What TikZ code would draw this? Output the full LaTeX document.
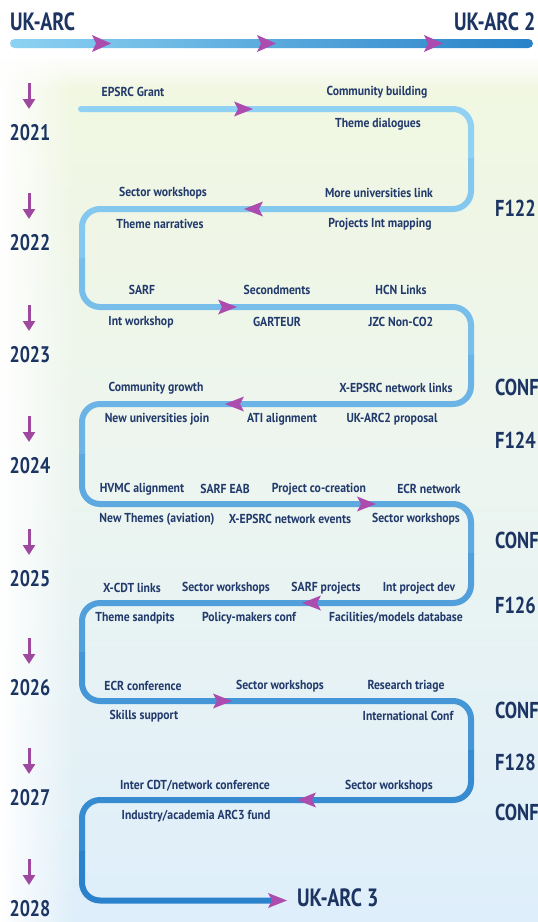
\documentclass[tikz,border=0pt]{standalone}
\usepackage{fontspec}
\setmainfont[FakeStretch=0.8]{PT Sans}
\newfontfamily\labfont[FakeStretch=0.9]{PT Sans}
\usetikzlibrary{fadings,arrows.meta}

\definecolor{navy}{RGB}{27,52,98}
\definecolor{labc}{RGB}{34,58,108}
\definecolor{purp}{RGB}{172,76,174}
\definecolor{darrc}{RGB}{158,72,160}
\definecolor{lineA}{RGB}{145,210,244}
\definecolor{lineB}{RGB}{42,130,204}
\definecolor{barA}{RGB}{140,210,242}
\definecolor{barB}{RGB}{40,130,200}
\definecolor{bgtop}{RGB}{241,247,224}
\definecolor{bgmid}{RGB}{236,245,240}
\definecolor{bgbot}{RGB}{222,238,250}

\begin{document}
\begin{tikzpicture}[x=1pt,y=-1pt,
  lab/.style={font=\labfont\bfseries\fontsize{13}{14}\selectfont, text=labc, inner sep=0pt},
  yr/.style={font=\bfseries\fontsize{22.5}{24}\selectfont, text=navy, inner sep=0pt},
  side/.style={font=\bfseries\fontsize{23}{24}\selectfont, text=navy, inner sep=0pt, anchor=west},
  big/.style={font=\bfseries\fontsize{25}{27}\selectfont, text=navy, inner sep=0pt},
  snake/.style={line width=6pt, rounded corners=18pt},
  darr/.style={draw=darrc, line width=3pt, -{Triangle[length=10pt,width=12pt]}},
  rtri/.pic={\fill[purp] (0,0) -- (-19,-7.5) -- (-15,0) -- (-19,7.5) -- cycle;},
  ltri/.pic={\fill[purp] (0,0) -- (19,-7.5) -- (15,0) -- (19,7.5) -- cycle;},
  btri/.pic={\fill[purp] (0,0) -- (-19,-8.5) -- (-15,0) -- (-19,8.5) -- cycle;}
]
\useasboundingbox (0,0) rectangle (538,922);
\clip (0,0) rectangle (538,922);

% background
\fill[white] (0,0) rectangle (538,922);
\shade[top color=bgtop, bottom color=bgbot, middle color=bgmid] (0,58) rectangle (538,922);
\fill[white, path fading=south] (0,56) rectangle (538,90);
\fill[white, path fading=east] (0,56) rectangle (75,922);

% top bar
\shade[left color=barA, right color=barB, rounded corners=4.5pt] (10,39) rectangle (533,48);
\coordinate (b1) at (111,43.5);
\coordinate (b2) at (276,43.5);
\coordinate (b3) at (443,43.5);
\foreach \p in {b1,b2,b3} \pic at (\p) {btri};
\node[big, anchor=west] (ukarc) at (10,22) {UK-ARC};
\node[big, anchor=west] (ukarc2) at (454,22) {UK-ARC 2};

% serpentine
\coordinate (s) at (81,109);
\draw[snake, line cap=round, draw=lineB!0!lineA] (s) -- (471,109) -- (471,159);
\draw[snake, draw=lineB!12!lineA] (471,158) -- (471,209) -- (82,209) -- (82,259);
\draw[snake, draw=lineB!25!lineA] (82,258) -- (82,307) -- (471,307) -- (471,356);
\draw[snake, draw=lineB!37!lineA] (471,355) -- (471,404) -- (82,404) -- (82,455);
\draw[snake, draw=lineB!50!lineA] (82,454) -- (82,504) -- (471,504) -- (471,554);
\draw[snake, draw=lineB!62!lineA] (471,553) -- (471,603) -- (82,603) -- (82,653);
\draw[snake, draw=lineB!75!lineA] (82,652) -- (82,701) -- (471,701) -- (471,751);
\draw[snake, draw=lineB!87!lineA] (471,750) -- (471,800) -- (82,800) -- (82,852);
\coordinate (e) at (272,900.5);
\draw[snake, draw=lineB] (82,851) -- (82,900.5) -- (e);

% arrowheads on the path
\pic at (253,109) {rtri};
\pic at (244,209) {ltri};
\pic at (237,307) {rtri};
\pic at (225,404) {ltri};
\pic at (376,504) {rtri};
\pic at (302,603) {ltri};
\pic at (232,701) {rtri};
\pic at (297,800) {ltri};
\pic at (287,900.5) {rtri};
\node[big, anchor=west] (ukarc3) at (297,898) {UK-ARC 3};

% years
\foreach \y/\t in {133/2021,243/2022,355/2023,466/2024,579/2025,688/2026,798/2027,909/2028}{
  \node[yr] (y\t) at (30,\y) {\t};
  \coordinate (ya\t) at (29,\y-50);
  \coordinate (yb\t) at (29,\y-24);
  \draw[darr] (ya\t) -- (yb\t);
}

% side labels
\node[side] (f122) at (495,208) {F122};
\node[side] (c1) at (495,387) {CONF};
\node[side] (f124) at (495,440) {F124};
\node[side] (c2) at (495,540) {CONF};
\node[side] (f126) at (495,605) {F126};
\node[side] (c3) at (495,710) {CONF};
\node[side] (f128) at (495,762) {F128};
\node[side] (c4) at (495,812) {CONF};

% row 1
\node[lab] (a1) at (133,92) {EPSRC Grant};
\node[lab] (a2) at (377,92) {Community building};
\node[lab] (a3) at (378,124) {Theme dialogues};
% row 2
\node[lab] (b1) at (163,193) {Sector workshops};
\node[lab] (b2) at (379,193) {More universities link};
\node[lab] (b3) at (160,224) {Theme narratives};
\node[lab] (b4) at (380,224) {Projects Int mapping};
% row 3
\node[lab] (c1a) at (142,290) {SARF};
\node[lab] (c2a) at (277,290) {Secondments};
\node[lab] (c3a) at (401,290) {HCN Links};
\node[lab] (c4a) at (141,322) {Int workshop};
\node[lab] (c5a) at (277,322) {GARTEUR};
\node[lab] (c6a) at (401,322) {JZC Non-CO2};
% row 4
\node[lab] (d1) at (156,388) {Community growth};
\node[lab] (d2) at (396,388) {X-EPSRC network links};
\node[lab] (d3) at (157,419) {New universities join};
\node[lab] (d4) at (282,419) {ATI alignment};
\node[lab] (d5) at (392,419) {UK-ARC2 proposal};
% row 5
\node[lab] (e1) at (142,489) {HVMC alignment};
\node[lab] (e2) at (225,489) {SARF EAB};
\node[lab] (e3) at (319,489) {Project co-creation};
\node[lab] (e4) at (429,489) {ECR network};
\node[lab] (e5) at (157,519) {New Themes (aviation)};
\node[lab] (e6) at (290,519) {X-EPSRC network events};
\node[lab] (e7) at (416,519) {Sector workshops};
% row 6
\node[lab] (g1) at (132,588) {X-CDT links};
\node[lab] (g2) at (226,588) {Sector workshops};
\node[lab] (g3) at (326,588) {SARF projects};
\node[lab] (g4) at (419,588) {Int project dev};
\node[lab] (g5) at (135,618) {Theme sandpits};
\node[lab] (g6) at (249,618) {Policy-makers conf};
\node[lab] (g7) at (396,618) {Facilities/models database};
% row 7
\node[lab] (h1) at (143,686) {ECR conference};
\node[lab] (h2) at (280,686) {Sector workshops};
\node[lab] (h3) at (406,686) {Research triage};
\node[lab] (h4) at (144,716) {Skills support};
\node[lab] (h5) at (408,716) {International Conf};
% row 8
\node[lab] (k1) at (195,786) {Inter CDT/network conference};
\node[lab] (k2) at (389,786) {Sector workshops};
\node[lab] (k3) at (196,816) {Industry/academia ARC3 fund};
\end{tikzpicture}
\end{document}
